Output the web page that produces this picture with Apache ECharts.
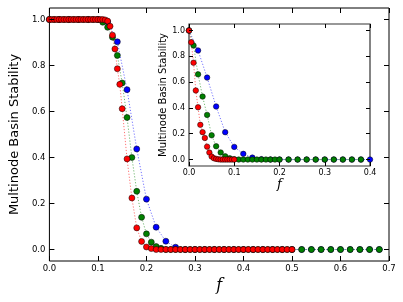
<!DOCTYPE html>
<html>
<head>
<meta charset="utf-8">
<script src="https://cdn.jsdelivr.net/npm/echarts@6/dist/echarts.min.js"></script>
<style>html,body{margin:0;padding:0;background:#fff}#c{width:403px;height:302px}</style>
</head>
<body>
<div id="c"></div>
<script>
// ---- main plot data ----
var mainRedX = [0,0.005,0.01,0.015,0.02,0.025,0.03,0.035,0.04,0.045,0.05,0.055,0.06,0.065,0.07,0.075,0.08,0.085,0.09,0.095,0.1,0.105,0.11,0.115,0.12,0.125,0.13,0.135,0.14,0.145,0.15,0.16,0.17,0.18,0.19,0.2,0.21,0.22,0.23,0.24,0.25,0.26,0.27,0.28,0.29,0.3,0.31,0.32,0.33,0.34,0.35,0.36,0.37,0.38,0.39,0.4,0.41,0.42,0.43,0.44,0.45,0.46,0.47,0.48,0.49,0.5];
var mainRedY = [1,1,1,1,1,1,1,1,1,1,1,1,1,1,1,1,1,1,1,1,1,1,1,0.998,0.993,0.971,0.932,0.872,0.786,0.718,0.612,0.394,0.224,0.094,0.035,0.011,0.004,0,0,0,0,0,0,0,0,0,0,0,0,0,0,0,0,0,0,0,0,0,0,0,0,0,0,0,0,0];
var mainGreenX = [0,0.01,0.02,0.03,0.04,0.05,0.06,0.07,0.08,0.09,0.1,0.11,0.12,0.13,0.14,0.15,0.16,0.17,0.18,0.19,0.2,0.21,0.22,0.23,0.24,0.25,0.26,0.27,0.28,0.29,0.3,0.31,0.32,0.33,0.34,0.35,0.36,0.37,0.38,0.39,0.4,0.41,0.42,0.43,0.44,0.45,0.46,0.47,0.48,0.49,0.5,0.52,0.54,0.56,0.58,0.6,0.62,0.64,0.66,0.68];
var mainGreenY = [1,1,1,1,1,1,1,1,1,1,1,0.988,0.966,0.923,0.844,0.724,0.574,0.40,0.253,0.14,0.068,0.032,0.013,0.005,0,0,0,0,0,0,0,0,0,0,0,0,0,0,0,0,0,0,0,0,0,0,0,0,0,0,0,0,0,0,0,0,0,0,0,0];
var mainBlueX = [0,0.02,0.04,0.06,0.08,0.1,0.12,0.14,0.16,0.18,0.2,0.22,0.24,0.26,0.28,0.3,0.32,0.34,0.36,0.38,0.4,0.42,0.44,0.46,0.48,0.5,0.52,0.54,0.56,0.58,0.6,0.62,0.64,0.66,0.68];
var mainBlueY = [1,1,1,1,1,1,0.99,0.903,0.695,0.437,0.219,0.097,0.036,0.01,0,0,0,0,0,0,0,0,0,0,0,0,0,0,0,0,0,0,0,0,0];

// ---- inset data ----
var insetRedX = [0,0.005,0.01,0.015,0.02,0.025,0.03,0.035,0.04,0.045,0.05,0.055,0.06,0.065,0.07,0.075,0.08,0.085,0.09,0.095,0.1];
var insetRedY = [1,0.909,0.75,0.535,0.405,0.269,0.212,0.167,0.10,0.054,0.023,0.01,0.005,0.002,0,0,0,0,0,0,0];
var insetGreenX = [0,0.01,0.02,0.03,0.04,0.05,0.06,0.07,0.08,0.09,0.1,0.11,0.12,0.13,0.14,0.15,0.16,0.17,0.18,0.19,0.2,0.22,0.24,0.26,0.28,0.3,0.32,0.34,0.36,0.38];
var insetGreenY = [1,0.884,0.66,0.488,0.346,0.188,0.103,0.055,0.025,0.01,0.003,0,0,0,0,0,0,0,0,0,0,0,0,0,0,0,0,0,0,0];
var insetBlueX = [0,0.02,0.04,0.06,0.08,0.1,0.12,0.14,0.16,0.18,0.2,0.22,0.24,0.26,0.28,0.3,0.32,0.34,0.36,0.38,0.4];
var insetBlueY = [1,0.845,0.635,0.411,0.212,0.098,0.044,0.015,0.003,0,0,0,0,0,0,0,0,0,0,0,0];

// ---- ticks & labels ----
var yTicks = [0, 0.2, 0.4, 0.6, 0.8, 1.0];
var yLabel = 'Multinode Basin Stability';
var xLabel = 'f';

function pairs(xs, ys){ return xs.map(function(x,i){ return [x, ys[i]]; }); }
function fmt(v){ return (Math.round(v*10)/10).toFixed(1); }

var FONT = 'DejaVu Sans';
function xAx(gi, max, fs, tickLen, pos, showLabel, name, nameSize, nameGap){
  return {
    type:'value', gridIndex:gi, min:0, max:max, interval:0.1, position:pos,
    axisLine:{show:false, onZero:false},
    axisTick:{show:true, inside:true, length:tickLen, lineStyle:{color:'#000', width:1}},
    axisLabel:{show:showLabel, formatter:fmt, fontSize:fs, fontFamily:FONT, color:'#000', margin:3},
    splitLine:{show:false},
    name: name || '', nameLocation:'middle', nameGap: nameGap || 0,
    nameTextStyle:{fontFamily:'DejaVu Serif', fontStyle:'italic', fontSize:nameSize||10, color:'#000'},
    z:4
  };
}
function yAx(gi, fs, tickLen, pos, showLabel, name, nameSize, nameGap){
  return {
    type:'value', gridIndex:gi, min:-0.05, max:1.05, position:pos,
    axisLine:{show:false, onZero:false},
    axisTick:{show:true, inside:true, length:tickLen, customValues:yTicks, lineStyle:{color:'#000', width:1}},
    axisLabel:{show:showLabel, customValues:yTicks, formatter:fmt, fontSize:fs, fontFamily:FONT, color:'#000', margin:4},
    splitLine:{show:false},
    name: name || '', nameLocation:'middle', nameGap: nameGap || 0,
    nameTextStyle:{fontFamily:FONT, fontSize:nameSize||10, color:'#000'},
    z:4
  };
}
function ser(xi, yi, xs, ys, color, size){
  return {
    type:'line', xAxisIndex:xi, yAxisIndex:yi, data:pairs(xs, ys),
    symbol:'circle', symbolSize:size, showSymbol:true, showAllSymbol:true, animation:false,
    lineStyle:{type:[1.2,1.8], width:1, color:color, opacity:0.55},
    itemStyle:{color:color, borderColor:'#000', borderWidth:0.5},
    emphasis:{disabled:true}, clip:false
  };
}

function withZ(o, z){ o.z = z; return o; }

var chart = echarts.init(document.getElementById('c'), null, {renderer:'canvas'});
chart.setOption({
  animation:false,
  backgroundColor:'#fff',
  grid:[
    {left:40, top:8, width:349, height:253, show:true, borderColor:'#000', borderWidth:1, backgroundColor:'#fff', z:0},
    {left:189, top:24, width:181, height:142, show:true, borderColor:'#333', borderWidth:1.2, backgroundColor:'#fff', z:5}
  ],
  xAxis:[
    xAx(0, 0.7, 8.5, 5, 'bottom', true, xLabel, 16, 13),
    xAx(0, 0.7, 8.5, 5, 'top', false),
    withZ(xAx(1, 0.4, 8, 4, 'bottom', true, xLabel, 13, 12), 7),
    withZ(xAx(1, 0.4, 8, 4, 'top', false), 7)
  ],
  yAxis:[
    yAx(0, 8.5, 5, 'left', true, yLabel, 13, 19),
    yAx(0, 8.5, 5, 'right', false),
    withZ(yAx(1, 8, 4, 'left', true, yLabel, 10, 19), 7),
    withZ(yAx(1, 8, 4, 'right', false), 7)
  ],
  series:[
    ser(0, 0, mainBlueX, mainBlueY, '#0000ff', 6),
    ser(0, 0, mainGreenX, mainGreenY, '#008000', 6),
    ser(0, 0, mainRedX, mainRedY, '#ff0000', 6),
    withZ(ser(2, 2, insetBlueX, insetBlueY, '#0000ff', 5.5), 6),
    withZ(ser(2, 2, insetGreenX, insetGreenY, '#008000', 5.5), 6),
    withZ(ser(2, 2, insetRedX, insetRedY, '#ff0000', 5.5), 6)
  ]
});
</script>
</body>
</html>
